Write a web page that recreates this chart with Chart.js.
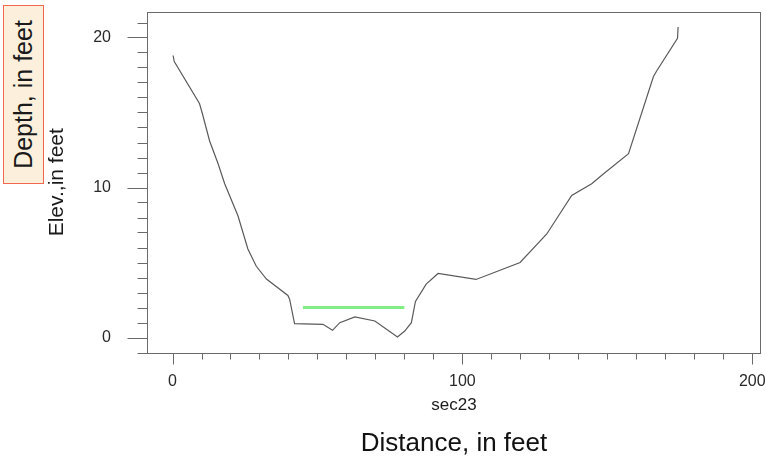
<!DOCTYPE html>
<html>
<head>
<meta charset="utf-8">
<title>sec23 cross section</title>
<script src="https://cdn.jsdelivr.net/npm/chart.js@4.4.1/dist/chart.umd.min.js"></script>
<style>
  body { margin: 0; background: #fff; }
  #wrap { position: relative; width: 766px; height: 461px; }
  #chart { display: block; }
  #depthLabel {
    position: absolute; left: 3px; top: 5px; width: 41px; height: 179px;
    box-sizing: border-box; background: #fcf0dd; border: 1px solid #f2684f;
    display: flex; align-items: center; justify-content: center;
  }
  #depthLabel span {
    transform: rotate(-90deg); white-space: nowrap;
    font: 25px "Liberation Sans", Arial, sans-serif; color: #1a1a1a;
  }
</style>
</head>
<body>
<div id="wrap">
  <canvas id="chart" width="766" height="461"></canvas>
  <div id="depthLabel"><span>Depth, in feet</span></div>
</div>
<script>
// ground profile
const distance = [0.2, 0.6, 9.3, 10.2, 12.8, 15.7, 18.0, 22.6, 26.0, 28.9, 32.4, 39.8, 40.4, 42.1,
  51.9, 55.2, 57.7, 62.9, 69.8, 77.6, 80.1, 82.4, 83.8, 87.5, 91.6, 104.7, 119.9, 129.1,
  137.7, 144.6, 148.6, 157.3, 165.9, 167.1, 174.2, 174.4];
const elevation = [18.8, 18.4, 15.6, 15.0, 13.1, 11.6, 10.25, 8.1, 5.9, 4.75, 3.9, 2.8, 2.55, 0.92,
  0.88, 0.48, 0.99, 1.37, 1.1, 0.03, 0.43, 0.99, 2.4, 3.56, 4.27, 3.87, 5.0, 6.9,
  9.47, 10.25, 10.9, 12.25, 17.4, 17.8, 19.95, 20.7];

// water surface
const waterDistance = [45, 80];
const waterElevation = [2, 2];

// axes
const xRange = [-8.8, 203];
const yRange = [-1, 21.7];
const xTickLabels = [0, 100, 200];
const yTickLabels = [0, 10, 20];
const xMinorStep = 10;
const yMinorStep = 1;

const font = '"Liberation Sans", Arial, sans-serif';

function toPoints(xs, ys) {
  return xs.map((x, i) => ({ x: x, y: ys[i] }));
}

function stepTicks(from, to, step) {
  const out = [];
  for (let v = Math.ceil(from / step) * step; v <= to + 1e-9; v += step) out.push({ value: v });
  return out;
}

// fixed axis size, no extra padding for the labels
function fixBox(s, w, h) {
  if (w !== null) s.width = w;
  if (h !== null) s.height = h;
  s.paddingTop = s.paddingBottom = s.paddingLeft = s.paddingRight = 0;
}

// box round the plot plus long/short tick marks outside it
const frameAndTicks = {
  id: 'frameAndTicks',
  afterDatasetsDraw(chart) {
    const { ctx, chartArea: a, scales: { x, y } } = chart;
    ctx.save();
    ctx.strokeStyle = '#6a6a6a';
    ctx.lineWidth = 1;
    const L = Math.round(a.left) + 0.5, R = Math.round(a.right) - 0.5;
    const T = Math.round(a.top) + 0.5, B = Math.round(a.bottom) + 0.5;
    ctx.strokeRect(L, T, R - L, B - T);
    ctx.beginPath();
    x.ticks.forEach(t => {
      const px = Math.round(x.getPixelForValue(t.value)) + 0.5;
      const len = xTickLabels.includes(t.value) ? 11 : 6;
      ctx.moveTo(px, B); ctx.lineTo(px, B + len);
    });
    y.ticks.forEach(t => {
      const py = Math.round(y.getPixelForValue(t.value)) + 0.5;
      const len = yTickLabels.includes(t.value) ? 20 : 10;
      ctx.moveTo(L, py); ctx.lineTo(L - len, py);
    });
    ctx.stroke();
    ctx.restore();
  }
};

new Chart(document.getElementById('chart'), {
  type: 'scatter',
  data: {
    datasets: [
      {
        label: 'Ground',
        data: toPoints(distance, elevation),
        showLine: true,
        borderColor: '#5a5a5a',
        borderWidth: 1.2,
        pointRadius: 0,
        tension: 0
      },
      {
        label: 'Water surface',
        data: toPoints(waterDistance, waterElevation),
        showLine: true,
        borderColor: '#84ec84',
        borderWidth: 3,
        pointRadius: 0
      }
    ]
  },
  options: {
    responsive: false,
    animation: false,
    devicePixelRatio: 1,
    layout: { padding: { top: 12, right: 5, left: 0, bottom: 0 } },
    plugins: {
      legend: { display: false },
      tooltip: { enabled: false },
      title: {
        display: true,
        position: 'bottom',
        fullSize: false,
        text: 'Distance, in feet',
        color: '#111',
        font: { family: font, size: 26, weight: 'normal', lineHeight: 1.2 },
        padding: { top: 0, bottom: 2 }
      }
    },
    scales: {
      x: {
        type: 'linear',
        min: xRange[0],
        max: xRange[1],
        afterBuildTicks: s => { s.ticks = stepTicks(0, xRange[1], xMinorStep); },
        afterFit: s => fixBox(s, null, 75.3),
        grid: { display: true, drawOnChartArea: false, drawTicks: false },
        border: { display: false },
        ticks: {
          autoSkip: false,
          maxRotation: 0,
          padding: 19,
          color: '#2a2a2a',
          font: { family: font, size: 16 },
          callback: v => (xTickLabels.includes(v) ? String(v) : '')
        },
        title: {
          display: true,
          text: 'sec23',
          color: '#1a1a1a',
          font: { family: font, size: 17 },
          padding: { top: 0, bottom: 12 }
        }
      },
      y: {
        type: 'linear',
        min: yRange[0],
        max: yRange[1],
        afterBuildTicks: s => { s.ticks = stepTicks(yRange[0], yRange[1], yMinorStep); },
        afterFit: s => fixBox(s, 147, null),
        grid: { display: true, drawOnChartArea: false, drawTicks: false },
        border: { display: false },
        ticks: {
          autoSkip: false,
          padding: 36,
          color: '#2a2a2a',
          font: { family: font, size: 16 },
          callback: v => (yTickLabels.includes(v) ? String(v) : '')
        },
        title: {
          display: true,
          text: 'Elev.,in feet',
          color: '#1a1a1a',
          font: { family: font, size: 21 },
          padding: { top: 45, bottom: 0 }
        }
      }
    }
  },
  plugins: [frameAndTicks]
});
</script>
</body>
</html>
